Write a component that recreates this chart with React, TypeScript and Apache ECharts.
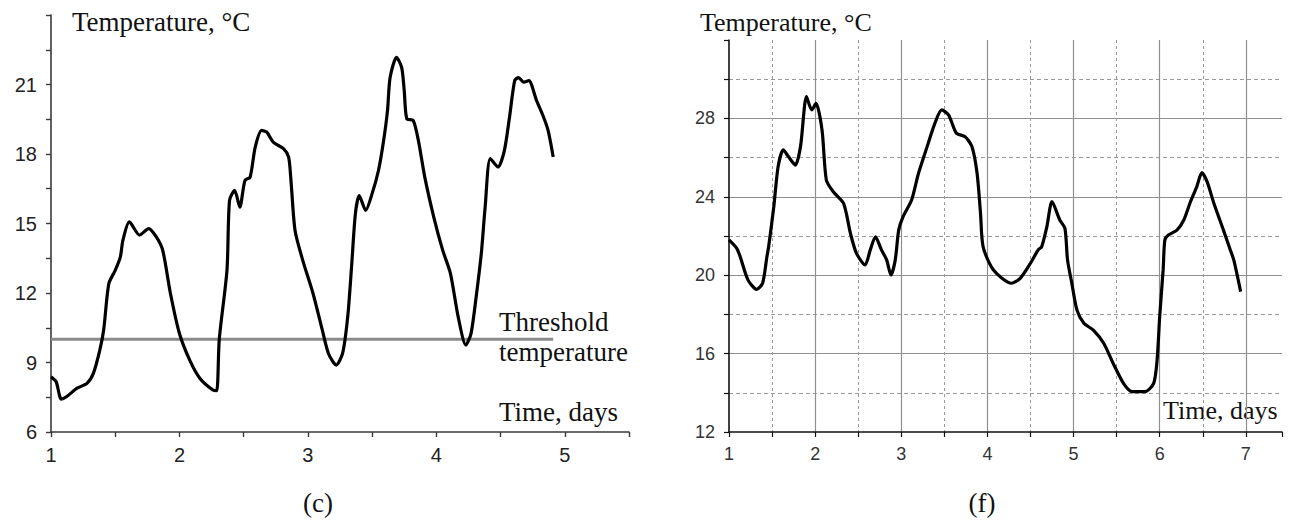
import { useEffect, useRef } from "react";
import * as echarts from "echarts";

// ---- Panel (c) data ----
const timeC = [1.0, 1.04, 1.08, 1.12, 1.2, 1.28, 1.33, 1.38, 1.41, 1.45, 1.5, 1.54, 1.56, 1.61, 1.69, 1.76, 1.82, 1.87, 1.93, 2.0, 2.08, 2.16, 2.26, 2.29, 2.31, 2.37, 2.39, 2.43, 2.47, 2.51, 2.55, 2.59, 2.64, 2.68, 2.73, 2.81, 2.85, 2.87, 2.9, 2.96, 3.04, 3.11, 3.16, 3.22, 3.27, 3.31, 3.34, 3.37, 3.4, 3.45, 3.5, 3.55, 3.59, 3.62, 3.64, 3.69, 3.73, 3.75, 3.77, 3.82, 3.86, 3.91, 3.98, 4.05, 4.11, 4.17, 4.23, 4.27, 4.31, 4.35, 4.38, 4.42, 4.48, 4.53, 4.57, 4.61, 4.64, 4.68, 4.72, 4.78, 4.83, 4.87, 4.91];
const tempC = [8.38, 8.17, 7.42, 7.52, 7.88, 8.1, 8.53, 9.53, 10.4, 12.4, 12.98, 13.56, 14.28, 15.07, 14.5, 14.78, 14.42, 13.84, 11.98, 10.25, 9.1, 8.31, 7.81, 7.78, 10.0, 12.98, 16.0, 16.43, 15.71, 16.86, 17.0, 18.3, 19.02, 18.94, 18.51, 18.23, 17.87, 16.72, 14.7, 13.41, 11.98, 10.45, 9.39, 8.89, 9.39, 10.97, 13.13, 15.43, 16.2, 15.57, 16.29, 17.3, 18.59, 19.88, 21.3, 22.17, 21.74, 20.74, 19.52, 19.45, 18.59, 17.0, 15.28, 13.84, 12.84, 10.97, 9.75, 10.25, 11.83, 13.7, 15.71, 17.8, 17.44, 18.16, 19.6, 21.17, 21.3, 21.1, 21.17, 20.31, 19.66, 19.02, 17.87];
const thresholdTime = [1, 4.91];
const thresholdTemp = [10, 10];

// ---- Panel (f) data ----
const timeF = [1.0, 1.09, 1.13, 1.22, 1.32, 1.39, 1.44, 1.46, 1.52, 1.57, 1.63, 1.69, 1.77, 1.83, 1.9, 1.96, 2.01, 2.08, 2.13, 2.21, 2.33, 2.41, 2.48, 2.58, 2.64, 2.7, 2.77, 2.83, 2.88, 2.93, 2.97, 3.02, 3.12, 3.2, 3.3, 3.39, 3.47, 3.55, 3.64, 3.74, 3.82, 3.88, 3.92, 3.95, 4.07, 4.28, 4.38, 4.5, 4.59, 4.63, 4.69, 4.75, 4.84, 4.9, 4.93, 4.98, 5.04, 5.12, 5.23, 5.35, 5.46, 5.58, 5.68, 5.83, 5.93, 5.97, 6.0, 6.04, 6.06, 6.1, 6.2, 6.28, 6.35, 6.43, 6.49, 6.55, 6.63, 6.74, 6.82, 6.86, 6.94];
const tempF = [21.8, 21.37, 20.94, 19.76, 19.28, 19.59, 20.94, 21.45, 23.49, 25.53, 26.39, 26.05, 25.62, 26.56, 29.11, 28.43, 28.77, 27.41, 24.86, 24.26, 23.66, 22.13, 21.11, 20.52, 21.29, 21.96, 21.29, 20.78, 20.01, 20.78, 22.3, 22.98, 23.84, 25.2, 26.56, 27.75, 28.43, 28.17, 27.24, 27.07, 26.56, 25.2, 23.16, 21.45, 20.27, 19.59, 19.84, 20.61, 21.29, 21.45, 22.47, 23.75, 22.82, 22.39, 20.78, 19.59, 18.22, 17.55, 17.2, 16.53, 15.5, 14.48, 14.06, 14.06, 14.48, 15.67, 17.88, 20.27, 21.8, 22.05, 22.3, 22.82, 23.66, 24.51, 25.23, 24.77, 23.66, 22.3, 21.29, 20.78, 19.16];

// ---- Text ----
const yTitle = "Temperature, °C";
const xTitle = "Time, days";
const thresholdLines = ["Threshold", "temperature"];
const captions = ["(c)", "(f)"];

const isMult = (v: number, m: number) => Math.abs(v / m - Math.round(v / m)) < 1e-6;

const serif = '"Liberation Serif", "Times New Roman", serif';

export default function App() {
  const ref = useRef<HTMLDivElement>(null);
  useEffect(() => {
    document.body.style.margin = "0";
    if (!ref.current) return;
    const chart = echarts.init(ref.current, undefined, { renderer: "svg" });
    const leftAxisColor = "#3a3a3a";
    const rightAxisColor = "#111";
    const gridSolid = "#8f8f8f";
    const gridDash = "#9a9a9a";
    const option: any = {
      animation: false,
      backgroundColor: "#fff",
      grid: [
        { left: 51, top: 15, width: 578, height: 417 },
        { left: 729, top: 40, width: 553, height: 392 },
      ],
      xAxis: [
        {
          type: "value", gridIndex: 0, min: 1, max: 5.5, interval: 0.5,
          axisLine: { show: true, lineStyle: { color: leftAxisColor, width: 1.6 } },
          axisTick: { show: true, length: 5, lineStyle: { color: leftAxisColor, width: 1.4 } },
          axisLabel: {
            margin: 13, fontSize: 20, color: "#222",
            formatter: (v: number) => (isMult(v, 1) ? String(v) : ""),
          },
          splitLine: { show: false },
        },
        {
          type: "value", gridIndex: 1, min: 1, max: 7.42, interval: 0.5,
          axisLine: { show: true, lineStyle: { color: rightAxisColor, width: 1.6 } },
          axisTick: { show: true, length: 5, lineStyle: { color: rightAxisColor, width: 1.2 } },
          axisLabel: {
            margin: 13, fontSize: 18, color: "#333",
            formatter: (v: number) => (isMult(v, 1) ? String(v) : ""),
          },
          splitLine: { show: true, showMinLine: false, showMaxLine: false, lineStyle: { color: gridDash, width: 1, type: [3, 3] } },
        },
        {
          type: "value", gridIndex: 1, min: 1, max: 7.42, interval: 1,
          axisLine: { show: false }, axisTick: { show: false }, axisLabel: { show: false },
          splitLine: { show: true, showMinLine: false, showMaxLine: false, lineStyle: { color: gridSolid, width: 1.2, type: "solid" } },
        },
      ],
      yAxis: [
        {
          type: "value", gridIndex: 0, min: 6, max: 24, interval: 1.5,
          axisLine: { show: true, lineStyle: { color: leftAxisColor, width: 1.6 } },
          axisTick: { show: true, length: 5, lineStyle: { color: leftAxisColor, width: 1.4 } },
          axisLabel: {
            margin: 14, fontSize: 20, color: "#222",
            formatter: (v: number) => (isMult(v, 3) && v < 24 ? String(v) : ""),
          },
          splitLine: { show: false },
        },
        {
          type: "value", gridIndex: 1, min: 12, max: 32, interval: 2,
          axisLine: { show: true, lineStyle: { color: rightAxisColor, width: 1.6 } },
          axisTick: { show: true, length: 5, lineStyle: { color: rightAxisColor, width: 1.2 } },
          axisLabel: {
            margin: 14, fontSize: 18, color: "#333",
            formatter: (v: number) => (isMult(v, 4) && v < 32 ? String(v) : ""),
          },
          splitLine: { show: true, showMinLine: false, showMaxLine: false, lineStyle: { color: gridDash, width: 1, type: [4, 3] } },
        },
        {
          type: "value", gridIndex: 1, min: 12, max: 32, interval: 4,
          axisLine: { show: false }, axisTick: { show: false }, axisLabel: { show: false },
          splitLine: { show: true, showMinLine: false, showMaxLine: false, lineStyle: { color: gridSolid, width: 1.2, type: "solid" } },
        },
      ],
      series: [
        {
          type: "line", xAxisIndex: 0, yAxisIndex: 0, silent: true, symbol: "none",
          data: thresholdTime.map((t, i) => [t, thresholdTemp[i]]),
          lineStyle: { color: "#8a8a8a", width: 3 }, z: 2,
        },
        {
          type: "line", xAxisIndex: 0, yAxisIndex: 0, silent: true, symbol: "none", smooth: 0.25,
          data: timeC.map((t, i) => [t, tempC[i]]),
          lineStyle: { color: "#000", width: 3.2 }, z: 3,
        },
        {
          type: "line", xAxisIndex: 1, yAxisIndex: 1, silent: true, symbol: "none", smooth: 0.25,
          data: timeF.map((t, i) => [t, tempF[i]]),
          lineStyle: { color: "#000", width: 3.2 }, z: 3,
        },
      ],
      graphic: [
        { type: "text", x: 72, y: 22, style: { text: yTitle, font: `27px ${serif}`, fill: "#111", textVerticalAlign: "middle" } },
        { type: "text", x: 700, y: 22, style: { text: yTitle, font: `26px ${serif}`, fill: "#111", textVerticalAlign: "middle" } },
        { type: "text", x: 499, y: 322, style: { text: thresholdLines[0], font: `27px ${serif}`, fill: "#111", textVerticalAlign: "middle" } },
        { type: "text", x: 499, y: 352, style: { text: thresholdLines[1], font: `27px ${serif}`, fill: "#111", textVerticalAlign: "middle" } },
        { type: "text", x: 499, y: 412, style: { text: xTitle, font: `27px ${serif}`, fill: "#111", textVerticalAlign: "middle" } },
        { type: "text", x: 1163, y: 410, style: { text: xTitle, font: `26px ${serif}`, fill: "#111", textVerticalAlign: "middle" } },
        { type: "text", x: 318, y: 503, style: { text: captions[0], font: `27px ${serif}`, fill: "#111", textAlign: "center", textVerticalAlign: "middle" } },
        { type: "text", x: 982, y: 503, style: { text: captions[1], font: `27px ${serif}`, fill: "#111", textAlign: "center", textVerticalAlign: "middle" } },
      ],
    };
    chart.setOption(option);
    return () => chart.dispose();
  }, []);
  return <div ref={ref} style={{ width: 1294, height: 520 }} />;
}
